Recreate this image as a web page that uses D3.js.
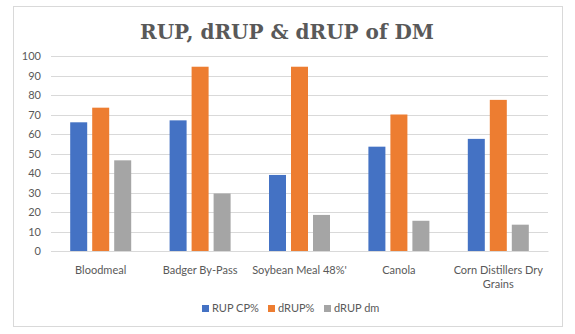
<!DOCTYPE html>
<html><head><meta charset="utf-8">
<script src="https://cdn.jsdelivr.net/npm/d3@7"></script>
<style>body{margin:0;background:#fff}svg{display:block}</style>
</head><body>
<script>
const categories = ["Bloodmeal","Badger By-Pass","Soybean Meal 48%'","Canola","Corn Distillers Dry Grains"];
const seriesNames = ["RUP CP%","dRUP%","dRUP dm"];
const rupCP = [66, 67, 39, 53.5, 57.5];
const dRUP = [73.5, 94.5, 94.5, 70, 77.5];
const dRUPdm = [46.5, 29.5, 18.5, 15.5, 13.5];
const yTicks = [0,10,20,30,40,50,60,70,80,90,100];
const colors = ["#4472C4","#ED7D31","#A5A5A5"];
const values = [rupCP, dRUP, dRUPdm];

const W = 575, H = 334;
const svg = d3.select("body").append("svg").attr("width", W).attr("height", H);
svg.append("rect").attr("x",13.5).attr("y",6.5).attr("width",549).attr("height",320)
  .attr("fill","#fff").attr("stroke","#D9D9D9");

svg.append("text").attr("x",287).attr("y",39).attr("text-anchor","middle")
  .attr("font-family","DejaVu Serif, serif").attr("font-weight","bold")
  .attr("font-size",20).attr("fill","#595959").text("RUP, dRUP & dRUP of DM");

const x0 = d3.scaleBand().domain(categories).range([51,548]).paddingInner(0).paddingOuter(0);
const y = d3.scaleLinear().domain([0,100]).range([251,56]);

const grid = svg.append("g");
yTicks.forEach(t => {
  grid.append("line").attr("x1",51).attr("x2",548).attr("y1",Math.round(y(t))+0.5).attr("y2",Math.round(y(t))+0.5)
    .attr("stroke","#D9D9D9").attr("stroke-width",1);
});
const yAxis = d3.axisLeft(y).tickValues(yTicks).tickSize(0).tickPadding(0);
const ya = svg.append("g").attr("transform","translate(41,0)").call(yAxis);
ya.select(".domain").remove();
ya.selectAll("text").attr("font-family","Lato, Carlito, sans-serif").attr("font-size",11).attr("fill","#595959");

const barW = 17, gap = 5;
const groupW = 3*barW + 2*gap;
values.forEach((arr, si) => {
  svg.append("g").selectAll("rect").data(arr).join("rect")
    .attr("x", (d,i) => x0(categories[i]) + (x0.bandwidth()-groupW)/2 + si*(barW+gap))
    .attr("y", d => y(d))
    .attr("width", barW)
    .attr("height", d => y(0) - y(d))
    .attr("fill", colors[si]);
});

const xAxis = d3.axisBottom(x0).tickSize(0).tickPadding(0);
const xa = svg.append("g").attr("transform","translate(0,251)").call(xAxis);
xa.select(".domain").attr("stroke","#D9D9D9");
xa.selectAll("text").remove();
const lbl = svg.append("g");
categories.forEach(c => {
  const cx = x0(c) + x0.bandwidth()/2;
  const lines = c === "Corn Distillers Dry Grains" ? ["Corn Distillers Dry","Grains"] : [c];
  lines.forEach((ln, k) => {
    lbl.append("text").attr("x",cx).attr("y",274 + k*14).attr("text-anchor","middle")
      .attr("font-family","Lato, Carlito, sans-serif").attr("font-size",11).attr("fill","#595959").text(ln);
  });
});

const legX = [202, 268, 324];
const leg = svg.append("g");
seriesNames.forEach((n, i) => {
  leg.append("rect").attr("x",legX[i]).attr("y",305).attr("width",7).attr("height",7).attr("fill",colors[i]);
  leg.append("text").attr("x",legX[i]+10).attr("y",312).attr("font-family","Lato, Carlito, sans-serif")
    .attr("font-size",11).attr("fill","#595959").text(n);
});
</script>
</body></html>
